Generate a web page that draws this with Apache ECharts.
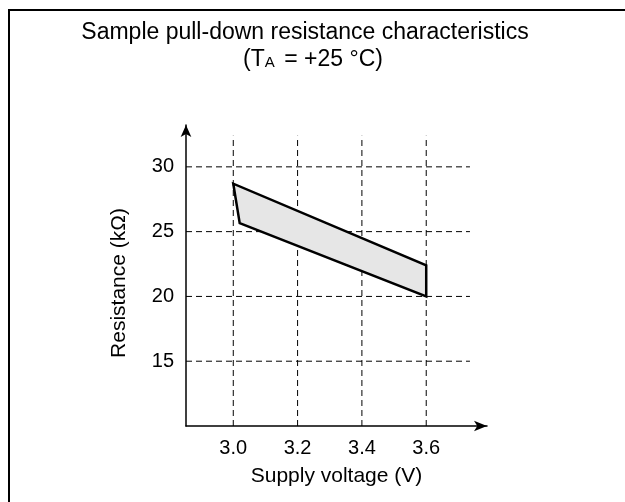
<!DOCTYPE html>
<html>
<head>
<meta charset="utf-8">
<script src="https://cdn.jsdelivr.net/npm/echarts@6/dist/echarts.min.js"></script>
<style>
html,body{margin:0;padding:0;background:#fff;}
#c{width:625px;height:502px;}
</style>
</head>
<body>
<div id="c"></div>
<script>
// ---- data ----
const xTicks = [3.0, 3.2, 3.4, 3.6];
const yTicks = [15, 20, 25, 30];
// polygon outline of the characteristic band (voltage V, resistance kΩ)
const polyV = [3.0, 3.02, 3.6, 3.6];
const polyR = [28.7, 25.65, 20.0, 22.4];

const titleLine1 = 'Sample pull-down resistance characteristics';
const xName = 'Supply voltage (V)';
const yName = 'Resistance (kΩ)';

// ---- layout constants ----
const X_MIN = 2.853, X_MAX = 3.789;
const Y_MIN = 10, Y_MAX = 33.23;
const GRID_TOP_R = 32.4;     // where vertical dashed lines stop
const GRID_RIGHT_V = 3.736;  // where horizontal dashed lines stop
const FONT = 'Liberation Sans, Arial, sans-serif';

const chart = echarts.init(document.getElementById('c'), null, {renderer: 'canvas'});

const dashStyle = {stroke: '#000', lineWidth: 1, lineDash: [6, 4]};

const option = {
  animation: false,
  backgroundColor: '#fff',
  grid: {left: 186, right: 138, top: 125, bottom: 76, containLabel: false},
  xAxis: {
    type: 'value', min: X_MIN, max: X_MAX,
    name: xName, nameLocation: 'middle', nameGap: 40,
    nameTextStyle: {fontFamily: FONT, fontSize: 21, color: '#000'},
    axisLine: {show: true, onZero: false, symbol: ['none', 'arrow'], symbolSize: [8, 13],
      lineStyle: {color: '#000', width: 1.5}},
    axisTick: {show: false},
    splitLine: {show: false},
    axisLabel: {customValues: xTicks, margin: 12, fontFamily: FONT, fontSize: 20, color: '#000',
      formatter: v => v.toFixed(1)}
  },
  yAxis: {
    type: 'value', min: Y_MIN, max: Y_MAX,
    axisLine: {show: true, onZero: false, symbol: ['none', 'arrow'], symbolSize: [8, 12],
      lineStyle: {color: '#000', width: 1.5}},
    axisTick: {show: false},
    splitLine: {show: false},
    axisLabel: {customValues: yTicks, margin: 12, fontFamily: FONT, fontSize: 20, color: '#000'}
  },
  graphic: [
    {type: 'rect', shape: {x: 9, y: 10, width: 800, height: 800},
      style: {fill: 'none', stroke: '#000', lineWidth: 2}, silent: true, z: 0},
    {type: 'text', x: 305, y: 33,
      style: {text: titleLine1, font: '23px ' + FONT, fill: '#000', align: 'center', verticalAlign: 'middle'}},
    {type: 'text', x: 313, y: 60,
      style: {text: '{a|(T}{s|A}{a| = +25 °C)}', align: 'center', verticalAlign: 'middle',
        rich: {
          a: {font: '23px ' + FONT, fill: '#000', verticalAlign: 'bottom'},
          s: {font: '15px ' + FONT, fill: '#000', verticalAlign: 'bottom', padding: [0, 3, 1, 0]}
        }}},
    {type: 'text', x: 119, y: 283, rotation: Math.PI / 2,
      style: {text: yName, font: '21px ' + FONT, fill: '#000', align: 'center', verticalAlign: 'middle'}}
  ],
  series: [
    {
      type: 'custom', name: 'vgrid', coordinateSystem: 'cartesian2d', clip: false, z: 1,
      data: xTicks.map(v => [v, Y_MIN]),
      renderItem: (params, api) => {
        const p0 = api.coord([api.value(0), Y_MIN]);
        const p1 = api.coord([api.value(0), GRID_TOP_R]);
        return {type: 'line', shape: {x1: p0[0], y1: p0[1], x2: p1[0], y2: p1[1]}, style: dashStyle};
      }
    },
    {
      type: 'custom', name: 'hgrid', coordinateSystem: 'cartesian2d', clip: false, z: 1,
      data: yTicks.map(v => [X_MIN, v]),
      renderItem: (params, api) => {
        const p0 = api.coord([X_MIN, api.value(1)]);
        const p1 = api.coord([GRID_RIGHT_V, api.value(1)]);
        return {type: 'line', shape: {x1: p0[0], y1: p0[1], x2: p1[0], y2: p1[1]}, style: dashStyle};
      }
    },
    {
      type: 'custom', name: 'band', coordinateSystem: 'cartesian2d', clip: false, z: 3,
      data: polyV.map((v, i) => [v, polyR[i]]),
      renderItem: (params, api) => {
        if (params.dataIndex !== 0) return null;
        const pts = polyV.map((v, i) => api.coord([v, polyR[i]]));
        return {type: 'polygon', shape: {points: pts},
          style: {fill: '#e6e6e6', stroke: '#000', lineWidth: 2.5, lineJoin: 'miter'}};
      }
    }
  ]
};
chart.setOption(option);
</script>
</body>
</html>
